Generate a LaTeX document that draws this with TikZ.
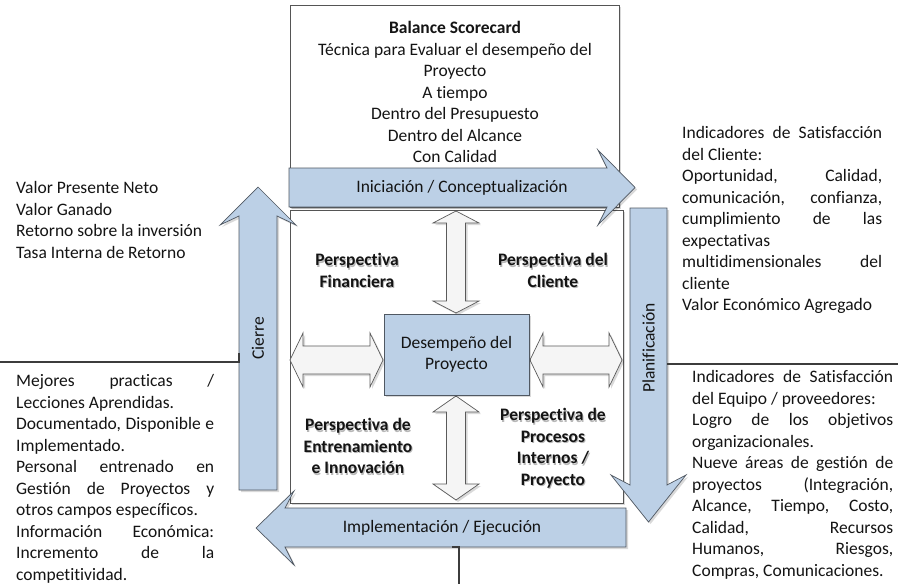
\documentclass[tikz,border=0pt]{standalone}
\usepackage{fontspec}
\setmainfont{Carlito}[Ligatures={NoCommon}]
\usetikzlibrary{shadows}

\definecolor{phasefill}{RGB}{188,208,230}
\definecolor{phaseline}{RGB}{80,88,98}
\definecolor{linkfill}{RGB}{245,245,245}
\definecolor{linkline}{RGB}{90,90,90}
\definecolor{boxline}{RGB}{85,85,85}
\definecolor{wire}{RGB}{60,60,60}
\definecolor{ink}{RGB}{20,20,20}

\newcommand{\blocksetup}{\fontsize{17.5pt}{21.5pt}\selectfont\setlength\parindent{0pt}\setlength\parskip{0pt}\tolerance=10000\hyphenpenalty=10000\emergencystretch=20pt}

\tikzset{
  soft/.style={drop shadow={shadow xshift=2pt,shadow yshift=-2pt,opacity=0.15,fill=black}},
  phase/.style={fill=phasefill,draw=phaseline,line width=0.7pt,line join=miter,soft},
  frame/.style={fill=white,draw=boxline,line width=0.7pt,soft},
  link/.style={fill=linkfill,draw=linkline,line width=0.7pt,line join=miter,soft},
  wireline/.style={draw=wire,line width=1.5pt},
  txt/.style={font=\blocksetup,text=ink,inner sep=0pt},
  block/.style={txt,align=justify,anchor=north west},
  persp/.style={txt,font=\blocksetup\bfseries,align=center,anchor=north},
  perspshade/.style={persp,text=black!28},
  label/.style={txt}
}

\begin{document}
\begin{tikzpicture}[x=1pt,y=-1pt]
  \fill[white] (0,0) rectangle (898,584);
  \useasboundingbox (0,0) rectangle (898,584);

  % frames
  \path[frame] (290,5) rectangle (619,207);
  \path[frame] (290,210) rectangle (623,503);

  % scorecard heading
  \node[txt,align=center,anchor=north] (bsc) at (455,18.5)
    {\strut\textbf{Balance Scorecard}\\Técnica para Evaluar el desempeño del\\Proyecto\\A tiempo\\Dentro del Presupuesto\\Dentro del Alcance\\Con Calidad};

  % double-headed links around the centre
  \path[link] (456,211) -- (479,223) -- (465.5,223) -- (465.5,301) -- (479,301)
     -- (456,313) -- (433,301) -- (446.5,301) -- (446.5,223) -- (433,223) -- cycle;
  \path[link] (456,396) -- (479,412) -- (465.5,412) -- (465.5,484) -- (479,484)
     -- (456,500) -- (433,484) -- (446.5,484) -- (446.5,412) -- (433,412) -- cycle;
  \path[link] (290,360) -- (303,333) -- (303,346) -- (370,346) -- (370,333)
     -- (383,360) -- (370,387) -- (370,374) -- (303,374) -- (303,387) -- cycle;
  \path[link] (530,360) -- (543,333) -- (543,346) -- (609,346) -- (609,333)
     -- (622,360) -- (609,387) -- (609,374) -- (543,374) -- (543,387) -- cycle;

  % centre
  \node[txt,fill=phasefill,draw=phaseline,line width=0.7pt,soft,align=center,
        minimum width=145pt,minimum height=81pt] (perf) at (456.5,354.5)
    {Desempeño del\\Proyecto};

  % phase arrows
  \path[phase] (289,168) -- (607,168) -- (598,150) -- (635,187.5) -- (598,225)
     -- (607,207) -- (289,207) -- cycle;
  \path[phase] (630,208) -- (667,208) -- (667,485) -- (686,475) -- (648.5,522)
     -- (611,475) -- (630,485) -- cycle;
  \path[phase] (626,508) -- (285,508) -- (294,491) -- (256,528) -- (294,565)
     -- (285,547) -- (626,547) -- cycle;
  \path[phase] (239,490) -- (239,216) -- (220,225) -- (258,187) -- (296,225)
     -- (277,216) -- (277,490) -- cycle;

  \node[label] (ini) at (462,187.5) {Iniciación / Conceptualización};
  \node[label,rotate=90] (plan) at (648.5,348) {Planificación};
  \node[label] (impl) at (442,528) {Implementación / Ejecución};
  \node[label,rotate=90] (cierre) at (258,338) {Cierre};

  % perspectives (with a faint offset shade)
  \node[perspshade] at (358,252) {\strut Perspectiva\\Financiera};
  \node[persp] (fin) at (357,250.5) {\strut Perspectiva\\Financiera};
  \node[perspshade] at (554,252) {\strut Perspectiva del\\Cliente};
  \node[persp] (cli) at (553,250.5) {\strut Perspectiva del\\Cliente};
  \node[perspshade] at (359,417) {\strut Perspectiva de\\Entrenamiento\\e Innovación};
  \node[persp] (ent) at (358,415.5) {\strut Perspectiva de\\Entrenamiento\\e Innovación};
  \node[perspshade] at (554,407) {\strut Perspectiva de\\Procesos\\Internos /\\Proyecto};
  \node[persp] (proc) at (553,405.5) {\strut Perspectiva de\\Procesos\\Internos /\\Proyecto};

  % indicator notes
  \node[txt,align=left,anchor=north west] (fincue) at (16,178.5)
    {\strut Valor Presente Neto\\Valor Ganado\\Retorno sobre la inversión\\Tasa Interna de Retorno};
  \node[block,text width=198pt] (learn) at (16,371.5)
    {\strut Mejores practicas /\linebreak Lecciones Aprendidas.\par
     Documentado, Disponible e\linebreak Implementado.\par
     Personal entrenado en\linebreak Gestión de Proyectos y\linebreak otros campos específicos.\par
     Información Económica:\linebreak Incremento de la\linebreak competitividad.};
  \node[block,text width=200pt] (client) at (682,123.5)
    {\strut Indicadores de Satisfacción\linebreak del Cliente:\par
     Oportunidad, Calidad,\linebreak comunicación, confianza,\linebreak cumplimiento de las\linebreak
     expectativas\linebreak multidimensionales del\linebreak cliente\par
     Valor Económico Agregado};
  \node[block,text width=201pt] (team) at (692,367.5)
    {\strut Indicadores de Satisfacción\linebreak del Equipo / proveedores:\par
     Logro de los objetivos\linebreak organizacionales.\par
     Nueve áreas de gestión de\linebreak proyectos (Integración,\linebreak Alcance, Tiempo, Costo,\linebreak
     Calidad, Recursos\linebreak Humanos, Riesgos,\linebreak Compras, Comunicaciones.};

  % dividing connectors
  \coordinate (leftEnd) at (0,362);
  \coordinate (cierreFoot) at (239,353);
  \coordinate (planSide) at (667,364);
  \coordinate (rightEnd) at (898,364);
  \coordinate (implBase) at (459,547);
  \coordinate (bottomEnd) at (459,584);
  \draw[wireline] (leftEnd) -- (cierreFoot |- leftEnd) -- (cierreFoot);
  \draw[wireline] (planSide) -- (rightEnd);
  \draw[wireline] ([xshift=-7pt]implBase) -- (implBase) -- (bottomEnd);
\end{tikzpicture}
\end{document}
